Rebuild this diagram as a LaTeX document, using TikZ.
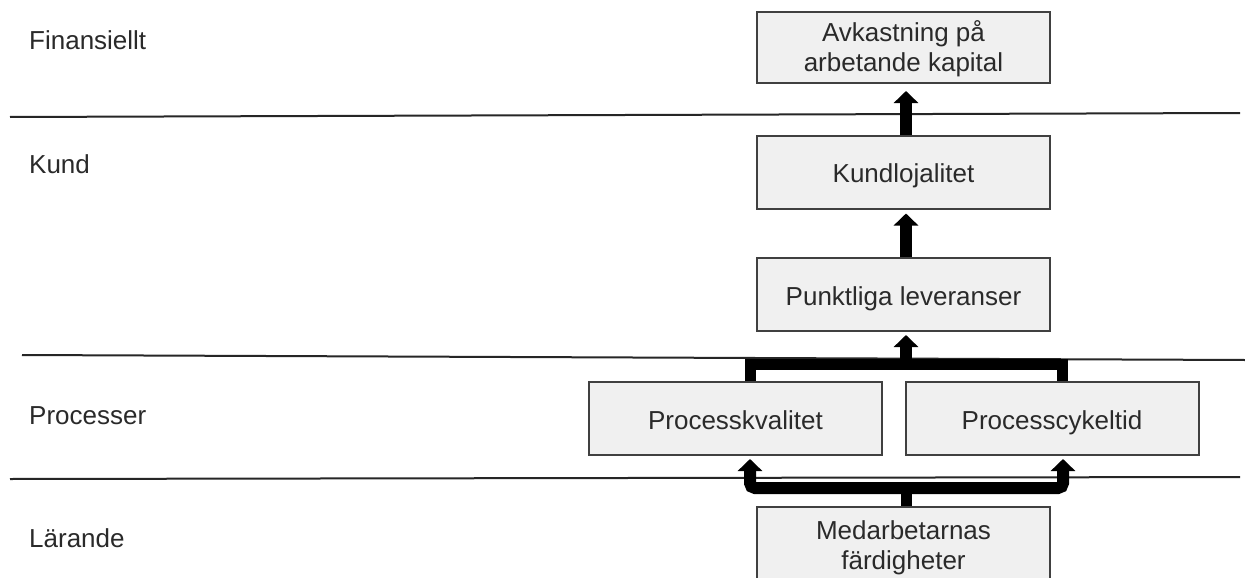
\documentclass[tikz,border=0pt]{standalone}
\usepackage{fontspec}
\setmainfont{Liberation Sans}
\usetikzlibrary{arrows.meta,calc}
\definecolor{txt}{HTML}{2A2A2A}
\definecolor{boxfill}{HTML}{F0F0F0}
\definecolor{boxline}{HTML}{404040}
\newcommand{\twolines}[2]{\raisebox{-3pt}[\height][\depth]{\begin{tabular}{@{}c@{}}#1\\#2\end{tabular}}}
\begin{document}
\begin{tikzpicture}[x=1pt,y=-1pt,
  every node/.style={font=\fontsize{26}{30}\selectfont, text=txt},
  kpibox/.style={draw=boxline, line width=2pt, fill=boxfill, minimum width=293pt,
    minimum height=73pt, inner sep=0pt, align=center},
  oneline/.style={text height=21pt, text depth=0pt},
  levellabel/.style={anchor=base west, inner sep=0pt},
  sepline/.style={draw=black!85, line width=2pt},
  bigarrow/.style={line width=12pt, -{Triangle[width=24pt,length=12pt]}},
  barline/.style={line width=11pt}]
\useasboundingbox (0,0) rectangle (1245,578);
\fill[white] (0,0) rectangle (1245,578);
\begin{scope}
\clip (0,0) rectangle (1245,578);
% separators
\draw[sepline] (10,117) -- (1240,113);
\draw[sepline] (22,355) -- (1245,360);
\draw[sepline] (10,479) -- (1240,477);
% level labels
\node[levellabel] (lfin) at (29,50) {Finansiellt};
\node[levellabel] (lkund) at (29,173) {Kund};
\node[levellabel] (lproc) at (29,424) {Processer};
\node[levellabel] (llar) at (29,547) {Lärande};
% boxes
\node[kpibox, minimum height=71pt] (fin) at (903.5,47.5) {\twolines{Avkastning på}{arbetande kapital}};
\node[kpibox, oneline] (kund) at (903.5,172) {Kundlojalitet};
\node[kpibox, oneline] (punkt) at (903.5,294.5) {Punktliga leveranser};
\node[kpibox, oneline] (pk) at (735.5,418.5) {Processkvalitet};
\node[kpibox, oneline] (pc) at (1052,418.5) {Processcykeltid};
\node[kpibox, minimum height=76pt] (med) at (903.5,545) {\twolines{Medarbetarnas}{färdigheter}};
% connectors
\draw[bigarrow] ([xshift=2.5pt]kund.north) -- ([xshift=2.5pt,yshift=-7pt]fin.south);
\draw[bigarrow] ([xshift=2.5pt]punkt.north) -- ([xshift=2.5pt,yshift=-4pt]kund.south);
\coordinate (ul) at (750,364);
\coordinate (ur) at (1062,364);
\coordinate (uc) at (906,364);
\draw[barline] (ul |- pk.north) -- (ul) -- (ur) -- (ur |- pc.north);
\draw[bigarrow] (uc) -- ([yshift=-3pt]uc |- punkt.south);
\coordinate (ll) at (750,488);
\coordinate (lr) at (1063,488);
\coordinate (lc) at (906,488);
\draw[barline] (lc |- med.north) -- (lc);
\draw[bigarrow, rounded corners=5pt] (lc) -- (ll) -- ([yshift=-3pt]ll |- pk.south);
\draw[bigarrow, rounded corners=5pt] (lc) -- (lr) -- ([yshift=-3pt]lr |- pc.south);
\end{scope}
\end{tikzpicture}
\end{document}
